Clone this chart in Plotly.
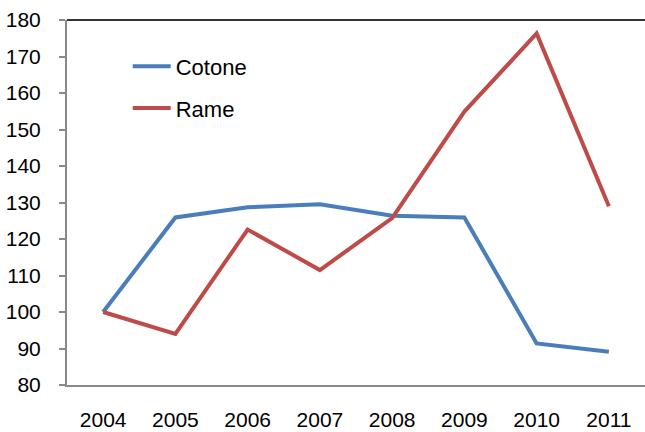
import plotly.graph_objects as go

years = ["2004", "2005", "2006", "2007", "2008", "2009", "2010", "2011"]
cotone = [100, 125.9, 128.7, 129.5, 126.4, 125.9, 91.4, 89.1]
rame = [100, 94.0, 122.6, 111.5, 125.7, 154.9, 176.3, 129.0]
y_ticks = [80, 90, 100, 110, 120, 130, 140, 150, 160, 170, 180]

FONT = "Liberation Sans, Arial, sans-serif"

fig = go.Figure()
fig.add_trace(go.Scatter(x=years, y=cotone, mode="lines", name="Cotone",
                         line=dict(color="#4A7EBB", width=4), legendgroup="a"))
fig.add_trace(go.Scatter(x=years, y=rame, mode="lines", name="Rame",
                         line=dict(color="#BE4B48", width=4), legendgroup="b"))

fig.update_layout(
    width=645, height=432,
    margin=dict(l=67, r=0, t=20, b=47),
    paper_bgcolor="white", plot_bgcolor="white",
    font=dict(family=FONT, size=21, color="#000000"),
    showlegend=True,
    legend=dict(x=0.105, y=0.93, xanchor="left", yanchor="top",
                bgcolor="rgba(0,0,0,0)", tracegroupgap=10, itemwidth=38,
                font=dict(family=FONT, size=22, color="#000000")),
    xaxis=dict(type="category", range=[-0.5, 7.5], showgrid=False,
               showline=True, linecolor="#898989", linewidth=2,
               ticks="", ticklabelstandoff=15, zeroline=False),
    yaxis=dict(range=[80, 180], tickvals=y_ticks, showgrid=False,
               showline=True, linecolor="#898989", linewidth=2,
               ticks="outside", ticklen=6, tickcolor="#898989", tickwidth=1.5,
               ticklabelstandoff=14, zeroline=False),
    shapes=[dict(type="line", xref="paper", yref="paper", x0=0, x1=1, y0=1, y1=1,
                 line=dict(color="#333333", width=2))],
)

fig.write_html("out.html")
